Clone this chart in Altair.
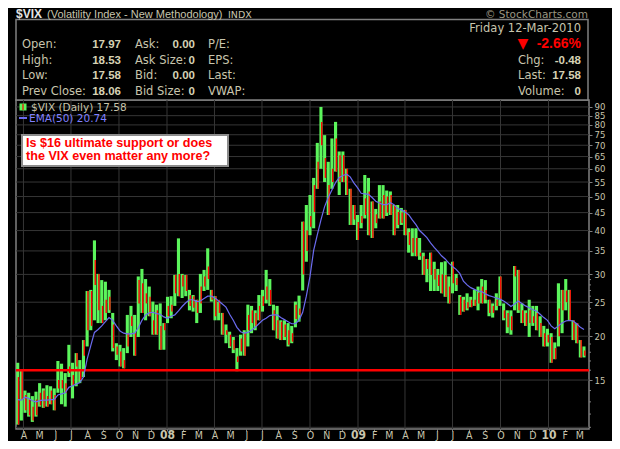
import altair as alt
import pandas as pd

# ---------------- data (weekly bars) ----------------
week_dates = pd.date_range("2007-03-21", periods=156, freq="7D").strftime("%Y-%m-%d").tolist()

highs = [16.8, 16.0, 14.0, 13.8, 13.5, 13.9, 14.7, 14.2, 14.5, 14.4, 14.2, 17.0, 16.7, 15.7, 18.9, 16.8,
         17.9, 17.1, 19.5, 26.9, 27.1, 37.5, 30.1, 28.9, 28.6, 27.1, 23.3, 19.1, 18.9, 18.5, 23.0, 24.4,
         23.0, 29.6, 31.1, 29.1, 27.7, 25.1, 24.6, 24.8, 21.8, 25.9, 26.0, 29.9, 38.0, 30.1, 29.9, 27.1,
         26.2, 25.4, 30.1, 30.9, 35.6, 27.1, 26.0, 25.1, 23.3, 21.6, 20.6, 19.9, 18.5, 20.2, 20.8, 24.6,
         24.4, 23.7, 26.2, 27.1, 30.9, 29.1, 24.6, 24.4, 22.2, 22.2, 21.8, 21.4, 25.1, 26.1, 42.4, 47.3,
         50.5, 56.5, 71.1, 90.0, 74.8, 62.8, 73.2, 81.6, 67.2, 67.2, 60.0, 52.6, 47.3, 44.3, 47.3, 57.6,
         56.5, 48.4, 46.1, 53.9, 53.9, 52.0, 51.7, 47.3, 47.3, 46.4, 45.8, 40.6, 40.6, 40.6, 38.1, 34.6,
         33.2, 34.6, 32.6, 31.1, 32.5, 32.7, 29.6, 32.6, 30.1, 26.2, 25.9, 26.5, 25.9, 27.1, 27.7, 29.1,
         28.9, 25.4, 24.8, 26.5, 29.6, 24.8, 23.7, 23.7, 31.7, 30.9, 24.8, 23.7, 25.4, 24.4, 24.4, 22.8,
         21.4, 21.0, 20.4, 19.2, 28.3, 27.1, 29.1, 27.1, 22.2, 21.8, 19.5, 18.7]

lows = [11.2, 11.5, 12.1, 11.8, 11.4, 11.8, 12.6, 12.5, 12.6, 12.8, 12.3, 13.8, 12.8, 12.6, 15.3, 13.3,
        14.4, 14.7, 15.3, 18.7, 20.8, 22.2, 21.8, 21.8, 22.2, 23.3, 18.1, 17.1, 16.4, 16.2, 17.9, 19.9,
        17.6, 19.9, 23.3, 22.2, 22.8, 20.2, 20.2, 18.3, 18.3, 21.8, 22.5, 24.4, 26.0, 25.7, 26.0, 23.7,
        23.5, 21.8, 23.3, 26.9, 27.1, 25.1, 22.2, 22.2, 20.2, 19.1, 18.5, 17.9, 15.9, 17.6, 17.6, 18.7,
        20.4, 20.8, 22.2, 23.5, 24.8, 24.4, 20.8, 19.7, 19.5, 19.5, 18.7, 19.1, 21.2, 22.0, 27.0, 32.6,
        38.8, 40.6, 52.6, 60.0, 55.0, 44.3, 52.6, 58.9, 50.5, 55.0, 50.5, 41.5, 41.5, 37.6, 40.6, 43.3,
        38.8, 38.1, 40.6, 43.3, 43.3, 44.0, 44.3, 38.8, 40.6, 41.5, 38.8, 34.6, 33.8, 33.8, 33.0, 29.9,
        28.5, 26.9, 26.9, 26.9, 26.5, 25.9, 24.8, 26.5, 26.9, 23.0, 23.5, 23.7, 24.2, 24.4, 23.7, 24.8,
        24.8, 22.8, 22.6, 23.7, 24.4, 22.2, 20.4, 20.2, 23.7, 23.3, 21.8, 21.4, 19.9, 21.4, 20.8, 19.9,
        18.7, 18.7, 16.8, 17.2, 18.7, 20.4, 23.7, 22.2, 19.5, 19.1, 17.4, 17.4]

red_highs = [15.3, 16.0, 13.6, 13.2, 12.6, 13.2, 13.8, 14.0, 13.5, 14.0, 13.6, 15.0, 15.0, 14.7, 16.4, 15.5,
             17.9, 15.9, 19.5, 26.9, 26.9, 33.0, 30.1, 24.4, 25.4, 25.9, 21.6, 18.7, 18.1, 17.1, 20.4, 22.8,
             20.4, 28.9, 28.3, 26.5, 25.9, 22.2, 23.7, 21.4, 21.8, 24.4, 24.6, 29.9, 30.1, 29.9, 29.9, 26.2,
             26.0, 25.4, 27.7, 29.6, 31.6, 27.1, 26.0, 25.4, 23.3, 20.8, 20.2, 19.5, 17.5, 19.7, 20.4, 23.0,
             23.7, 23.3, 24.4, 26.0, 27.7, 27.1, 23.7, 22.2, 22.0, 21.6, 20.8, 20.4, 24.6, 24.0, 42.4, 40.0,
             44.0, 53.9, 62.8, 81.6, 64.4, 53.9, 60.0, 73.2, 65.6, 65.6, 60.0, 52.6, 47.3, 42.3, 44.0, 49.4,
             51.7, 48.4, 44.5, 48.4, 50.5, 50.0, 50.5, 47.3, 45.2, 45.0, 45.8, 39.6, 38.1, 38.1, 34.6, 33.8,
             33.2, 34.6, 31.1, 29.9, 30.0, 29.9, 27.7, 32.6, 29.3, 25.9, 25.4, 25.0, 25.4, 25.4, 26.6, 27.7,
             27.1, 25.4, 24.4, 25.4, 29.6, 23.7, 23.3, 22.8, 31.7, 30.9, 23.7, 23.3, 23.7, 22.8, 23.3, 21.8,
             20.4, 20.2, 19.9, 18.5, 24.0, 27.1, 27.0, 27.1, 22.2, 21.8, 19.5, 18.2]

red_lows = [11.2, 13.2, 12.3, 11.9, 11.5, 11.9, 12.7, 12.5, 12.6, 12.8, 12.3, 14.2, 14.2, 13.8, 15.7, 14.5,
            16.4, 15.0, 17.6, 20.8, 21.4, 28.0, 23.7, 21.8, 23.3, 23.7, 18.5, 17.7, 16.4, 16.2, 18.7, 21.4,
            17.6, 24.8, 23.3, 24.8, 22.8, 20.2, 20.2, 18.3, 20.8, 22.8, 23.5, 26.5, 26.0, 27.7, 26.9, 24.4,
            24.1, 23.3, 24.8, 27.7, 29.1, 25.4, 22.8, 23.3, 20.2, 20.2, 18.7, 18.3, 16.9, 18.1, 17.6, 20.8,
            21.8, 21.4, 22.2, 24.4, 25.4, 24.6, 20.8, 19.7, 19.5, 19.9, 18.9, 19.3, 22.4, 23.0, 30.0, 35.0,
            41.0, 45.2, 52.6, 70.0, 56.5, 44.3, 55.0, 58.9, 55.0, 55.0, 50.5, 41.5, 43.0, 37.6, 42.0, 44.3,
            38.8, 38.1, 42.0, 43.3, 43.3, 45.0, 44.3, 38.8, 41.5, 42.0, 38.8, 36.4, 34.6, 33.8, 33.8, 29.9,
            31.1, 29.9, 29.0, 27.8, 26.5, 25.9, 24.8, 28.3, 28.0, 23.0, 23.5, 24.0, 24.2, 24.4, 24.8, 24.8,
            25.4, 23.3, 23.3, 24.4, 25.4, 22.5, 21.2, 20.8, 29.6, 23.7, 21.8, 21.4, 21.8, 21.8, 20.8, 19.9,
            18.7, 19.2, 16.8, 17.2, 20.0, 23.7, 25.0, 22.2, 19.5, 19.1, 17.4, 17.6]

ema50 = [13.2, 13.15, 13.4, 13.3, 13.1, 13.0, 13.1, 13.15, 13.15, 13.2, 13.2, 13.6, 13.7, 13.8, 14.3, 14.45,
         14.6, 14.75, 15.3, 17.2, 18.8, 20.5, 20.9, 21.4, 22.0, 22.6, 22.2, 21.4, 20.7, 20.4, 20.3, 20.3,
         20.4, 21.1, 22.2, 23.0, 23.3, 23.4, 23.2, 23.1, 22.7, 22.5, 22.8, 23.0, 23.6, 24.3, 24.9, 25.4,
         25.4, 25.1, 25.2, 25.6, 26.0, 26.0, 25.7, 25.2, 24.7, 24.2, 23.1, 22.2, 21.2, 20.6, 20.4, 20.5,
         20.8, 21.2, 21.7, 22.2, 22.5, 22.9, 23.0, 23.0, 22.6, 22.3, 22.0, 21.7, 21.7, 22.2, 23.4, 26.0,
         29.6, 35.1, 38.9, 42.9, 46.8, 49.7, 52.2, 54.8, 56.7, 57.4, 57.9, 56.9, 54.7, 53.0, 51.1, 50.9,
         50.7, 49.7, 48.5, 47.9, 47.4, 47.4, 48.0, 47.4, 46.2, 45.8, 45.2, 44.4, 42.9, 41.6, 40.0, 39.1,
         38.2, 36.9, 35.8, 34.9, 33.9, 33.2, 32.3, 31.6, 31.0, 30.2, 28.7, 28.0, 27.5, 27.2, 26.9, 26.8,
         26.4, 26.1, 25.9, 25.7, 25.5, 25.2, 24.8, 24.3, 24.7, 25.2, 24.8, 24.4, 24.1, 23.8, 23.6, 23.1,
         22.6, 22.2, 21.4, 21.0, 21.4, 21.8, 22.1, 22.2, 22.1, 21.7, 21.2, 20.9]

y_ticks = [15, 20, 25, 30, 35, 40, 45, 50, 55, 60, 65, 70, 75, 80, 85, 90]
y_minor_ticks = [11, 12, 13, 14, 16, 17, 18, 19, 21, 22, 23, 24, 26, 27, 28, 29]
grid_levels = [11] + y_ticks
support_level = [16]
month_starts = pd.date_range("2007-04-01", "2010-03-01", freq="MS")
quarter_starts = [d.strftime("%Y-%m-%d") for d in month_starts if d.month in (1, 4, 7, 10)]

header_left_labels = ["Open:", "High:", "Low:", "Prev Close:"]
header_left_values = ["17.97", "18.53", "17.58", "18.06"]
header_mid_labels = ["Ask:", "Ask Size:", "Bid:", "Bid Size:"]
header_mid_values = ["0.00", "0", "0.00", "0"]
header_right_labels = ["P/E:", "EPS:", "Last:", "VWAP:"]
quote_labels = ["Chg:", "Last:", "Volume:"]
quote_values = ["-0.48", "17.58", "0"]

df = pd.DataFrame({"date": week_dates, "high": highs, "low": lows,
                   "rhigh": red_highs, "rlow": red_lows, "ema": ema50})


def ms(s):
    return int(pd.Timestamp(s, tz="UTC").value // 10**6)


month_ms = [ms(d) for d in month_starts]

# ---------------- styling ----------------
BG = "#000000"
GRID = "#363636"
FRAME = "#808080"
GREEN = "#5cf55c"
RED = "#ff0000"
BLUE = "#6b6bef"
LABEL = "#c8c5ad"
VALUE = "#d6d2b4"
NARROW = "Liberation Sans Narrow, DejaVu Sans Condensed, Liberation Sans"
PAGE_MARGIN = 8
PX0, PY0 = 16, 100          # plot-area origin in page pixels
PW, PH = 573, 329           # plot-area size
TOTAL_W, TOTAL_H = 620 - 2 * PAGE_MARGIN, 449 - 2 * PAGE_MARGIN

xs = alt.Scale(type="utc", domain=[ms("2007-03-17 17:00"), ms("2010-03-19 14:00")])
ys = alt.Scale(type="log", domain=[10.88, 94.2], nice=False)

x_axis = alt.Axis(
    values=month_ms, grid=False, domain=False, title=None, tickSize=2, tickColor=FRAME,
    labelColor=LABEL, labelFont=NARROW, labelPadding=7, labelBaseline="alphabetic",
    labelFlush=False, labelOverlap=False,
    labelExpr="utcmonth(datum.value) == 0 ? utcFormat(datum.value, '%y') : substring(utcFormat(datum.value, '%b'), 0, 1)",
    labelFontWeight={"condition": {"test": "utcmonth(datum.value) == 0", "value": "bold"}, "value": "normal"},
    labelFontSize={"condition": {"test": "utcmonth(datum.value) == 0", "value": 12}, "value": 10.5},
)
y_axis = alt.Axis(
    orient="right", values=y_ticks, grid=False, domain=False, title=None, tickSize=3, tickColor=FRAME,
    labelColor=LABEL, labelFont=NARROW, labelFontSize=9.5, labelPadding=2, labelFlush=False,
    labelOverlap=False,
)


def X(field):
    return alt.X(field, scale=xs, axis=x_axis)


def Y(field):
    return alt.Y(field, scale=ys, axis=y_axis)


def text_layer(s, x, y, size=11.5, color=LABEL, weight="normal", align="left",
               font="DejaVu Sans"):
    # x, y are page pixel positions of the reference
    return alt.Chart(pd.DataFrame({"t": [s]})).mark_text(
        align=align, baseline="alphabetic", font=font, fontSize=size, fontWeight=weight, color=color
    ).encode(text="t:N", x=alt.value(x - PX0), y=alt.value(y - PY0))


one = pd.DataFrame({"a": [0]})

layers = []
# header box
layers.append(alt.Chart(one).mark_rect(fill=BG, stroke=FRAME, strokeWidth=1.5).encode(
    x=alt.value(0), x2=alt.value(572), y=alt.value(19.5 - PY0), y2=alt.value(0)))
# grid
layers.append(alt.Chart(pd.DataFrame({"d": quarter_starts})).mark_rule(color=GRID, strokeWidth=1).encode(
    x=X("d:T")))
layers.append(alt.Chart(pd.DataFrame({"v": grid_levels})).mark_rule(color=GRID, strokeWidth=1).encode(
    y=Y("v:Q")))
# minor ticks on the right axis
layers.append(alt.Chart(pd.DataFrame({"v": y_minor_ticks})).mark_rule(color=FRAME, strokeWidth=1).encode(
    y=Y("v:Q"), x=alt.value(PW), x2=alt.value(PW + 2)))
# bars
layers.append(alt.Chart(df).mark_rule(color=GREEN, strokeWidth=3.1).encode(
    x=X("date:T"), y=Y("low:Q"), y2="high:Q"))
layers.append(alt.Chart(df).mark_rule(color=RED, strokeWidth=1.4, xOffset=0.8).encode(
    x=X("date:T"), y=Y("rlow:Q"), y2="rhigh:Q"))
# support line
layers.append(alt.Chart(pd.DataFrame({"v": support_level})).mark_rule(color=RED, strokeWidth=2.5).encode(
    y=Y("v:Q")))
# EMA
layers.append(alt.Chart(df).mark_line(color=BLUE, strokeWidth=1.2).encode(
    x=X("date:T"), y=Y("ema:Q")))

# in-plot legend
layers.append(alt.Chart(one).mark_rect(fill=GREEN).encode(
    x=alt.value(19.5 - PX0), x2=alt.value(26.5 - PX0), y=alt.value(103.5 - PY0), y2=alt.value(110.5 - PY0)))
layers.append(alt.Chart(one).mark_rule(color=RED, strokeWidth=1.2).encode(
    x=alt.value(23 - PX0), y=alt.value(104 - PY0), y2=alt.value(110 - PY0)))
layers.append(text_layer("$VIX (Daily) 17.58", 31, 111, size=10.5, color=LABEL))
layers.append(alt.Chart(one).mark_rule(color=BLUE, strokeWidth=2).encode(
    x=alt.value(19 - PX0), x2=alt.value(27 - PX0), y=alt.value(118 - PY0)))
layers.append(text_layer("EMA(50) 20.74", 29, 122, size=10.5, color="#8080ff"))

# annotation
layers.append(alt.Chart(one).mark_rect(fill="#ffffff", stroke="#8c8c8c", strokeWidth=2).encode(
    x=alt.value(22 - PX0), x2=alt.value(228 - PX0), y=alt.value(135 - PY0), y2=alt.value(166 - PY0)))
layers.append(text_layer("Is $16 ultimate support or does", 26, 146.5, size=12.6, color=RED,
                         weight="bold", font="Liberation Sans"))
layers.append(text_layer("the VIX even matter any more?", 26, 160, size=12.6, color=RED,
                         weight="bold", font="Liberation Sans"))

# title (kept just below the page margin so it is not clipped)
layers.append(text_layer("$VIX", 16, 18, size=12, color="#e4e4e4", weight="bold", font="Liberation Sans"))
layers.append(text_layer("(Volatility Index - New Methodology)", 47, 18, size=11, color=LABEL,
                         font="Liberation Sans"))
layers.append(text_layer("INDX", 228, 18, size=9.5, color=LABEL))
layers.append(text_layer("\u00a9 StockCharts.com", 588, 18, size=10.5, color="#9a9682", align="right"))

# header quote table
row_y = [47.5, 63.5, 79, 94.5]
for i in range(4):
    layers.append(text_layer(header_left_labels[i], 22, row_y[i]))
    layers.append(text_layer(header_left_values[i], 121, row_y[i], color=VALUE, weight="bold",
                             align="right", font="Liberation Sans"))
    layers.append(text_layer(header_mid_labels[i], 135, row_y[i]))
    layers.append(text_layer(header_mid_values[i], 195, row_y[i], color=VALUE, weight="bold",
                             align="right", font="Liberation Sans"))
    layers.append(text_layer(header_right_labels[i], 208, row_y[i]))

layers.append(text_layer("Friday 12-Mar-2010", 581, 31.5, align="right"))
layers.append(text_layer("\u25bc", 523, 48, size=14, color=RED, align="center"))
layers.append(text_layer("-2.66%", 581, 48.3, size=14, color=RED, weight="bold", align="right",
                         font="Liberation Sans"))
for i in range(3):
    layers.append(text_layer(quote_labels[i], 518, row_y[i + 1]))
    layers.append(text_layer(quote_values[i], 581, row_y[i + 1], color=VALUE, weight="bold",
                             align="right", font="Liberation Sans"))

pad_left = PX0 - PAGE_MARGIN
pad_top = PY0 - PAGE_MARGIN
chart = alt.layer(*layers).properties(
    width=PW,
    height=PH,
    padding={"left": pad_left, "top": pad_top,
             "right": TOTAL_W - pad_left - PW, "bottom": TOTAL_H - pad_top - PH},
    autosize=alt.AutoSizeParams(type="none"),
    background=BG,
).configure_view(stroke=FRAME, strokeWidth=1.5)

chart.save("out.html", embed_options={"renderer": "svg", "actions": False})
